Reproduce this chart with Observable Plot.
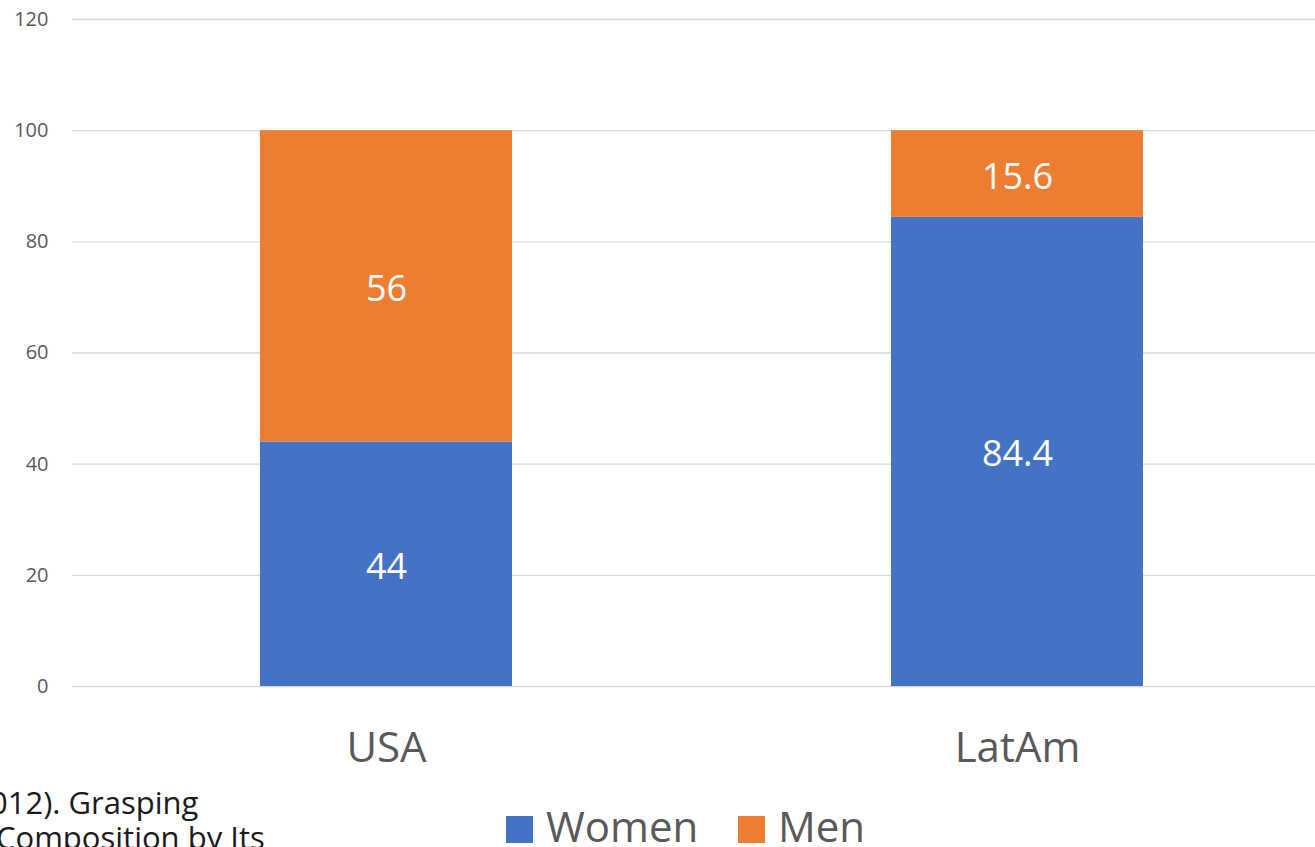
<!DOCTYPE html>
<html>
<head>
<meta charset="utf-8">
<script src="https://cdn.jsdelivr.net/npm/d3@7"></script>
<script src="https://cdn.jsdelivr.net/npm/@observablehq/plot@0.6"></script>
<style>
  html, body { margin: 0; padding: 0; background: #fff; overflow: hidden; }
  #wrap { position: relative; width: 1315px; height: 847px; overflow: hidden; font-family: "Open Sans", sans-serif; }
  #chart { position: absolute; left: 0; top: 0; }
  .caption { position: absolute; font-size: 31px; line-height: 35px; height: 35px; color: #1a1a1a; white-space: nowrap; }
  .sw { position: absolute; width: 27px; height: 27px; top: 816px; }
  .lt { position: absolute; top: 805px; font-size: 42px; line-height: 42px; color: #595959; white-space: nowrap; }
</style>
</head>
<body>
<div id="wrap">
  <div id="chart"></div>
  <div class="caption" style="left:-10px; top:785px;">012). Grasping</div>
  <div class="caption" style="left:-4px; top:820px;">Composition by Its</div>
  <div id="legend"></div>
</div>
<script>
const categories = ["USA", "LatAm"];
const series = ["Women", "Men"];
const colors = ["#4472C4", "#ED7D31"];
const women = [44, 84.4];
const men = [56, 15.6];
const yTicks = [0, 20, 40, 60, 80, 100, 120];

const data = [];
categories.forEach((c, i) => {
  data.push({country: c, gender: "Women", value: women[i]});
  data.push({country: c, gender: "Men", value: men[i]});
});

const chart = Plot.plot({
  width: 1315,
  height: 780,
  marginLeft: 72,
  marginRight: 0,
  marginTop: 19,
  marginBottom: 94,
  style: {fontFamily: "Open Sans, sans-serif", color: "#595959", background: "#fff"},
  x: {type: "band", domain: categories, range: [71, 1333], paddingInner: 0.6, paddingOuter: 0.3, label: null},
  y: {domain: [0, 120], label: null},
  color: {domain: series, range: colors},
  marks: [
    Plot.ruleY(yTicks, {stroke: "#d9d9d9", strokeWidth: 1.4}),
    Plot.barY(data, Plot.stackY({x: "country", y: "value", fill: "gender"})),
    Plot.text(data, Plot.stackY({x: "country", y: "value", z: "gender", text: d => String(d.value), fill: "white", fontSize: 36, dy: 3})),
    Plot.axisY({ticks: yTicks, tickSize: 0, tickPadding: 24, fontSize: 20, label: null}),
    Plot.axisX({tickSize: 0, tickPadding: 46, fontSize: 42, label: null})
  ]
});
document.getElementById("chart").appendChild(chart);

// legend
const legend = document.getElementById("legend");
const legendPos = [{sq: 506, tx: 546}, {sq: 738, tx: 778}];
series.forEach((s, i) => {
  const sq = document.createElement("div");
  sq.className = "sw";
  sq.style.left = legendPos[i].sq + "px";
  sq.style.background = colors[i];
  legend.appendChild(sq);
  const t = document.createElement("div");
  t.className = "lt";
  t.style.left = legendPos[i].tx + "px";
  t.textContent = s;
  legend.appendChild(t);
});
</script>
</body>
</html>
